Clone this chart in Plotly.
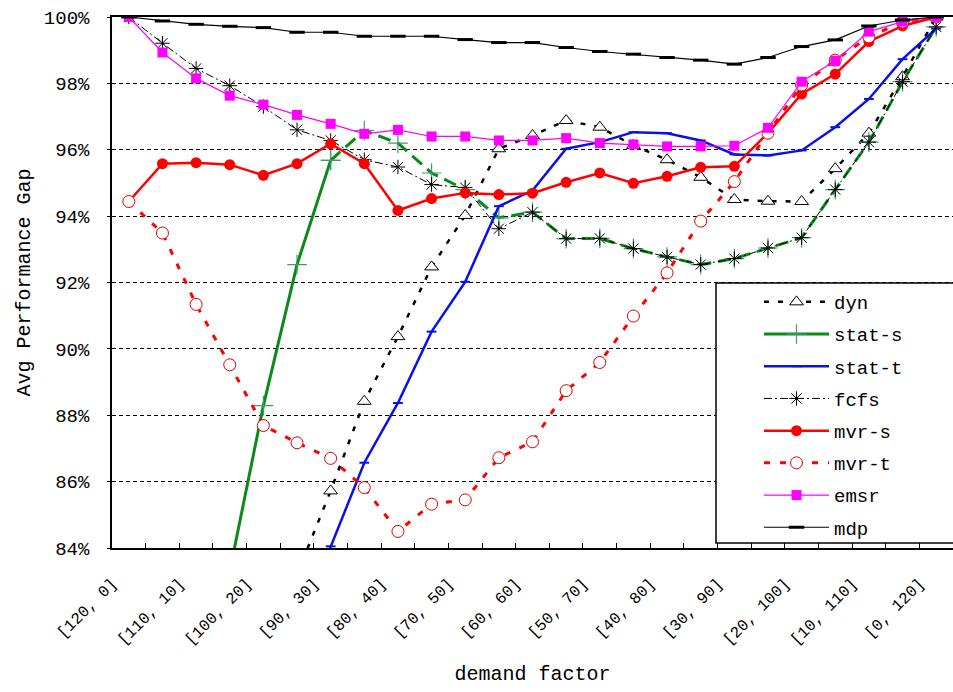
import plotly.graph_objects as go

# ---------------- data ----------------
categories = ["[120, 0]", "[115, 5]", "[110, 10]", "[105, 15]", "[100, 20]", "[95, 25]",
              "[90, 30]", "[85, 35]", "[80, 40]", "[75, 45]", "[70, 50]", "[65, 55]",
              "[60, 60]", "[55, 65]", "[50, 70]", "[45, 75]", "[40, 80]", "[35, 85]",
              "[30, 90]", "[25, 95]", "[20, 100]", "[15, 105]", "[10, 110]", "[5, 115]",
              "[0, 120]"]

dyn = [None, None, None, None, None, 83.2, 85.72, 88.42, 90.37, 92.47, 94.02, 96.03, 96.43,
       96.88, 96.68, 96.13, 95.7, 95.17, 94.5, 94.45, 94.44, 95.43, 96.5, 98.2, 100]
stat_s = [None, None, None, 83.3, 88.29, 92.54, 95.68, 96.58, 96.2, 95.3, 94.8, 93.95, 94.12,
          93.32, 93.33, 93.02, 92.77, 92.54, 92.72, 93.04, 93.35, 94.8, 96.23, 98.05, 99.7]
stat_t = [None, None, None, None, None, 81.5, 84.05, 86.57, 88.37, 90.52, 92.02, 94.3, 94.77,
          96.03, 96.23, 96.53, 96.5, 96.28, 95.86, 95.83, 95.98, 96.68, 97.53, 98.73, 99.65]
fcfs = [100, 99.21, 98.45, 97.93, 97.3, 96.6, 96.28, 95.7, 95.48, 94.95, 94.86, 93.62, 94.12,
        93.32, 93.33, 93.02, 92.77, 92.54, 92.72, 93.04, 93.35, 94.8, 96.23, 98.05, 99.7]
mvr_s = [94.44, 95.58, 95.61, 95.55, 95.23, 95.58, 96.18, 95.58, 94.17, 94.53, 94.7, 94.65, 94.69,
         95.02, 95.3, 94.99, 95.2, 95.47, 95.5, 96.5, 97.68, 98.28, 99.26, 99.73, 100]
mvr_t = [94.44, 93.49, 91.34, 89.52, 87.69, 87.17, 86.7, 85.82, 84.5, 85.32, 85.45, 86.72, 87.2,
         88.74, 89.59, 90.99, 92.29, 93.85, 95.04, 96.5, 97.95, 98.7, 99.4, 99.85, 100]
emsr = [100, 98.93, 98.15, 97.63, 97.36, 97.05, 96.78, 96.48, 96.6, 96.4, 96.4, 96.28, 96.28,
        96.35, 96.2, 96.16, 96.1, 96.1, 96.12, 96.66, 98.05, 98.68, 99.56, 99.86, 100]
mdp = [100, 99.88, 99.78, 99.72, 99.68, 99.54, 99.54, 99.42, 99.42, 99.42, 99.32, 99.23, 99.23,
       99.08, 98.96, 98.88, 98.78, 98.7, 98.58, 98.78, 99.11, 99.31, 99.73, 99.91, 100]

y_ticks = [84, 86, 88, 90, 92, 94, 96, 98, 100]
y_tick_labels = ["84%", "86%", "88%", "90%", "92%", "94%", "96%", "98%", "100%"]
STAT_S_BREAK = 6  # stat-s drawn solid up to here, dashed afterwards

FONT = "Liberation Mono"

# stat-s split into solid / dashed parts
stat_s_a = [v if i <= STAT_S_BREAK else None for i, v in enumerate(stat_s)]
stat_s_b = [v if i >= STAT_S_BREAK else None for i, v in enumerate(stat_s)]

fig = go.Figure()

def add(name, y, color, width, dash, symbol, msize, mcolor, mline_color, mline_w,
        showlegend=True, group=None):
    fig.add_trace(go.Scatter(
        x=categories, y=y, name=name, mode="lines+markers",
        line=dict(color=color, width=width, dash=dash),
        marker=dict(symbol=symbol, size=msize, color=mcolor,
                    line=dict(color=mline_color, width=mline_w)),
        showlegend=showlegend, legendgroup=group or name, connectgaps=False,
    ))

add("dyn", dyn, "black", 2.5, "5px,9px", "triangle-up", 12, "white", "black", 1)
add("stat-s", stat_s_a, "#0a8a1a", 3, "solid", "cross-thin", 14, "#3c9c6c", "#3c9c6c", 1.2,
    group="stat-s")
add("stat-s", stat_s_b, "#0a8a1a", 3, "13px,7px", "cross-thin", 14, "#3c9c6c", "#3c9c6c", 1.2,
    showlegend=False, group="stat-s")
add("stat-t", stat_t, "#0a10e8", 2.5, "solid", "line-ew", 7, "#0a10e8", "#0a10e8", 2)
add("fcfs", fcfs, "black", 1, "8px,3px,2px,3px", "asterisk", 12, "black", "black", 1)
add("mvr-s", mvr_s, "#ff0000", 2.5, "solid", "circle", 11, "#ff0000", "#ff0000", 0)
add("mvr-t", mvr_t, "#ff0000", 3, "6px,10px", "circle", 12, "white", "#e00000", 1)
add("emsr", emsr, "#ff00ff", 1.2, "solid", "square", 10, "#ff00ff", "#ff00ff", 0)
add("mdp", mdp, "black", 1.2, "solid", "line-ew", 11, "black", "black", 3)

# x ticks at category boundaries, label every other one
tick_pos = [i - 0.5 for i in range(len(categories) + 1)]
tick_txt = [categories[i] if (i < len(categories) and i % 2 == 0) else "" for i in range(len(categories) + 1)]

PL, PR, PT, PB = 112, 0, 17, 144
W, H = 953, 692
pw, ph = W - PL - PR, H - PT - PB

# legend box (drawn as shape)
box_left, box_top, box_bottom = 716, 283, 543
fig.add_shape(type="rect", xref="paper", yref="paper",
              x0=(box_left - PL) / pw, x1=1.02,
              y0=(H - PB - box_bottom) / ph, y1=(H - PB - box_top) / ph,
              line=dict(color="black", width=1.5), fillcolor="white", layer="above")

fig.update_layout(
    width=W, height=H,
    margin=dict(l=PL, r=PR, t=PT, b=PB, pad=0),
    paper_bgcolor="white", plot_bgcolor="white",
    font=dict(family=FONT, color="black", size=18),
    showlegend=True,
    legend=dict(x=(759 - PL) / pw, xanchor="left", y=(H - PB - 283) / ph, yanchor="top",
                bgcolor="rgba(0,0,0,0)", borderwidth=0, font=dict(family=FONT, size=19),
                itemwidth=65, tracegroupgap=4.5, traceorder="grouped"),
    xaxis=dict(type="category", categoryorder="array", categoryarray=categories,
               range=[-0.5, len(categories) - 0.5],
               tickmode="array", tickvals=tick_pos, ticktext=tick_txt, tickangle=-45,
               ticks="inside", ticklen=5, tickcolor="black", tickwidth=1,
               tickfont=dict(family=FONT, size=16), ticklabelstandoff=18,
               showline=True, linecolor="black", linewidth=1.5, mirror=True,
               showgrid=False, zeroline=False,
               title=dict(text="demand factor", font=dict(family=FONT, size=20), standoff=18)),
    yaxis=dict(range=[84, 100], tickmode="array", tickvals=y_ticks, ticktext=y_tick_labels,
               ticks="outside", ticklen=3, tickcolor="black",
               tickfont=dict(family=FONT, size=19), ticklabelstandoff=14,
               showline=True, linecolor="black", linewidth=1.5,
               showgrid=True, gridcolor="black", gridwidth=1, griddash="4px,3px",
               zeroline=False,
               title=dict(text="Avg Performance Gap", font=dict(family=FONT, size=20), standoff=8)),
)

fig.write_html("out.html")
